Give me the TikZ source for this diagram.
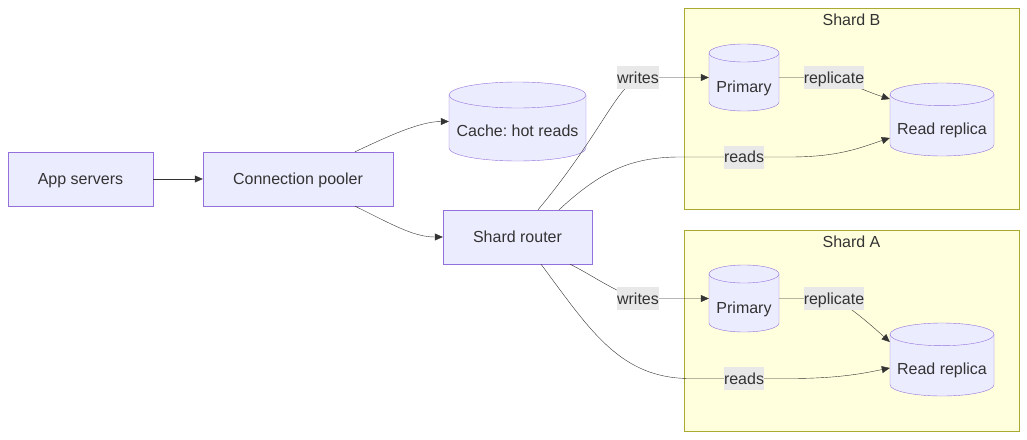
\documentclass[tikz,border=0pt]{standalone}
\usepackage{fontspec}
\setmainfont{Liberation Sans}
\frenchspacing
\usetikzlibrary{arrows.meta,calc,positioning}
\definecolor{ink}{HTML}{333333}
\definecolor{nodefill}{HTML}{ECECFF}
\definecolor{nodeline}{HTML}{9370DB}
\definecolor{shardfill}{HTML}{FFFFDE}
\definecolor{shardline}{HTML}{AAAA33}
\definecolor{tagfill}{HTML}{E8E8E8}
\tikzset{>={Triangle[length=8pt,width=7pt]},line width=1pt,
  every node/.style={font=\fontsize{16}{19}\selectfont,text=ink,
    text height=11.5pt,text depth=0pt,inner sep=0pt},
  box/.style={draw=nodeline,fill=nodefill,minimum height=54},
  dbline/.style={draw=nodeline,fill=nodefill},
  dbtext/.style={text height=29.5pt},
  shard/.style={draw=shardline,fill=shardfill},
  edge/.style={->,draw=ink},
  tag/.style={fill=tagfill,minimum height=23}}
% name, centre, width, height, cap radius, text
\newcommand\dbnode[6]{%
  \filldraw[dbline] ($(#2)+(-#3/2,#4/2-#5)$) -- ++(0,-#4+2*#5)
    arc[start angle=180,end angle=360,x radius=#3/2,y radius=#5]
    -- ++(0,#4-2*#5)
    arc[start angle=0,end angle=180,x radius=#3/2,y radius=#5] -- cycle;
  \draw[dbline,fill=none] ($(#2)+(-#3/2,#4/2-#5)$)
    arc[start angle=180,end angle=360,x radius=#3/2,y radius=#5];
  \node[dbtext,minimum width=#3,minimum height=#4] (#1) at (#2) {#6};}
\begin{document}
\begin{tikzpicture}[x=1pt,y=1pt]
\useasboundingbox (0,0) rectangle (1027,-439);
% shards
\node[shard,minimum width=335,minimum height=201] (shardB) at (851.5,-108.5) {};
\node[below=5.5pt of shardB.north] (shardBt) {Shard B};
\node[shard,minimum width=335,minimum height=201] (shardA) at (851.5,-330.5) {};
\node[below=5.5pt of shardA.north] (shardAt) {Shard A};
% nodes
\node[box,minimum width=145] (app) at (80.5,-179) {App servers};
\node[box,minimum width=190] (pooler) at (298,-179) {Connection pooler};
\node[box,minimum width=149] (router) at (517.5,-237) {Shard router};
\dbnode{cache}{517.5,-121.5}{137}{79}{13}{Cache: hot reads}
\dbnode{primB}{744,-77.5}{70}{67}{9}{Primary}
\dbnode{replB}{942,-119.5}{104}{73}{11.35}{Read replica}
\dbnode{primA}{744,-298.5}{70}{67}{9}{Primary}
\dbnode{replA}{942,-359.5}{104}{73}{11.35}{Read replica}
% edges
\draw[edge] (app) -- (pooler);
\draw[edge] ($(pooler.north)+(57,0)$) .. controls +(30,14) and +(-30,0) .. (cache.west);
\draw[edge] ($(pooler.south)+(57,0)$) .. controls +(35,-17) and +(-30,0) .. (router.west);
\draw[edge] ($(router.north)+(20.5,0)$) .. controls (598,-138) and (615,-90) .. (638,-77.5)
  node[tag] (wrB) {writes} -- (primB.west);
\draw[edge] ($(router.north)+(41.5,0)$) .. controls (600,-172) and (630,-157) .. (680,-157)
  -- (744,-157) node[tag] (rdB) {reads} -- (790,-157)
  .. controls (840,-157) and (862,-147) .. ($(replB.west)+(0,-18.5)$);
\draw[edge] ($(router.south)+(52.5,0)$) .. controls (592,-275) and (615,-292) .. (638,-298.5)
  node[tag] (wrA) {writes} -- (primA.west);
\draw[edge] ($(router.south)+(23.5,0)$) .. controls (590,-330) and (620,-378.5) .. (690,-378.5)
  -- (744,-378.5) node[tag] (rdA) {reads} -- (790,-378.5)
  .. controls (840,-378.5) and (865,-373) .. ($(replA.west)+(0,-8.5)$);
\draw[edge] (primB.east) -- (834,-77.5) node[tag] (rpB) {replicate}
  .. controls (850,-84) and (868,-92) .. ($(replB.west)+(0,20.5)$);
\draw[edge] (primA.east) -- (834,-298.5) node[tag] (rpA) {replicate}
  .. controls (852,-308) and (872,-326) .. ($(replA.west)+(0,17.5)$);
\end{tikzpicture}
\end{document}
